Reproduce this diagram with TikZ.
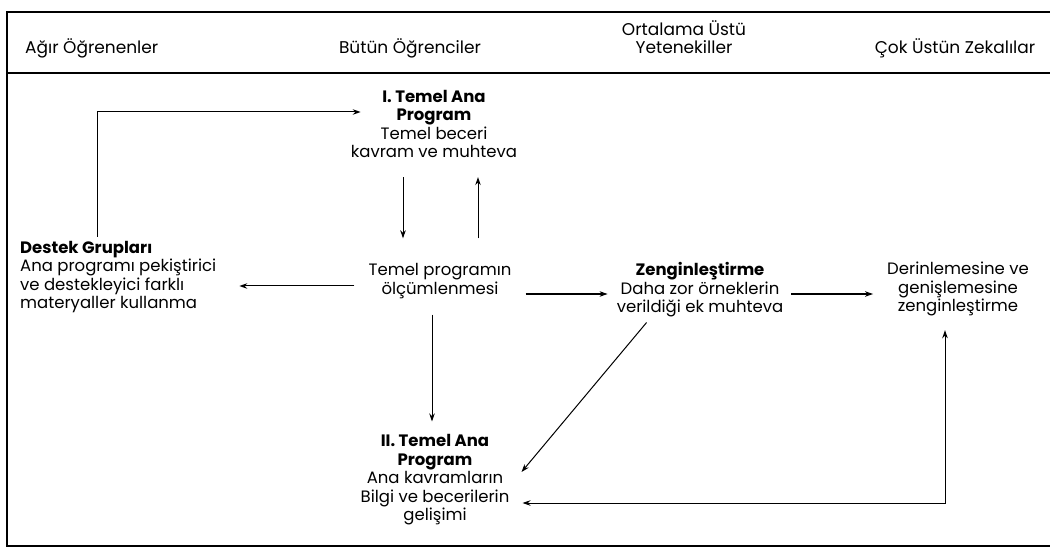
\documentclass[tikz,border=0pt]{standalone}
\usepackage{fontspec}
\setmainfont{Poppins}
\usetikzlibrary{arrows.meta}
\begin{document}
\begin{tikzpicture}[x=1pt,y=-1pt,
  txt/.style={font=\fontsize{16.5}{18.5}\selectfont, align=center, inner sep=0pt},
  hdr/.style={font=\fontsize{17}{18}\selectfont, align=center, inner sep=0pt},
  arr/.style={-{Stealth[length=8pt,width=5.5pt]}, line width=1pt},
  arrboth/.style={{Stealth[length=8pt,width=5.5pt]}-{Stealth[length=8pt,width=5.5pt]}, line width=1pt},
  frame/.style={line width=1.6pt}]
\useasboundingbox (0,0) rectangle (1050,548);
\draw[frame] (1050,12) -- (7,12) -- (7,546) -- (1050,546);
\draw[frame] (7,73) -- (1050,73);
% headers
\node[hdr, anchor=west] (h1) at (25,48) {Ağır Öğrenenler};
\node[hdr] (h2) at (410,48) {Bütün Öğrenciler};
\node[hdr] (h3) at (684,37) {Ortalama Üstü\\Yetenekiller};
\node[hdr] (h4) at (955,48) {Çok Üstün Zekalılar};
% nodes
\node[txt] (p1) at (434,124) {\textbf{I. Temel Ana}\\\textbf{Program}\\Temel beceri\\kavram ve muhteva};
\node[txt] (olc) at (440,281) {Temel programın\\ölçümlenmesi};
\node[txt, align=left, anchor=west] (destek) at (20,277) {\textbf{Destek Grupları}\\Ana programı pekiştirici\\ve destekleyici farklı\\materyaller kullanma};
\node[txt] (zen) at (700,290) {\textbf{Zenginleştirme}\\Daha zor örneklerin\\verildiği ek muhteva};
\node[txt] (der) at (958,289) {Derinlemesine ve\\genişlemesine\\zenginleştirme};
\node[txt] (p2) at (435,480) {\textbf{II. Temel Ana}\\\textbf{Program}\\Ana kavramların\\Bilgi ve becerilerin\\gelişimi};
% helper coordinates
\coordinate (xa) at (403,0);
\coordinate (xb) at (478,0);
\coordinate (xc) at (97,0);
\coordinate (xd) at (945,0);
\coordinate (xe) at (432,0);
\coordinate (r1) at (0,112);
\coordinate (r2) at (0,286);
\coordinate (r3) at (0,294);
\coordinate (r4) at (0,503);
% connectors
\draw[arr, shorten <=19pt, shorten >=25pt] (p1.south -| xa) -- (olc.north -| xa);
\draw[arr, shorten <=25pt, shorten >=19pt] (olc.north -| xb) -- (p1.south -| xb);
\draw[arr, shorten <=14pt, shorten >=23pt] (olc.west |- r2) -- (destek.east |- r2);
\draw[arr, shorten <=14pt, shorten >=9pt] (olc.east |- r3) -- (zen.west |- r3);
\draw[arr, shorten <=8pt, shorten >=14pt] (zen.east |- r3) -- (der.west |- r3);
\draw[arr, shorten <=16pt, shorten >=13pt] (olc.south -| xe) -- (p2.north -| xe);
\draw[arr] ([yshift=4pt]destek.north -| xc) |- ([xshift=10pt]p1.west |- r1);
\draw[arr] ([xshift=30pt,yshift=-5pt]zen.south west) -- ([xshift=12pt,yshift=8pt]p2.east);
\draw[arrboth, shorten >=14pt] ([xshift=13pt]p2.east |- r4) -| (der.south -| xd);
\end{tikzpicture}
\end{document}
